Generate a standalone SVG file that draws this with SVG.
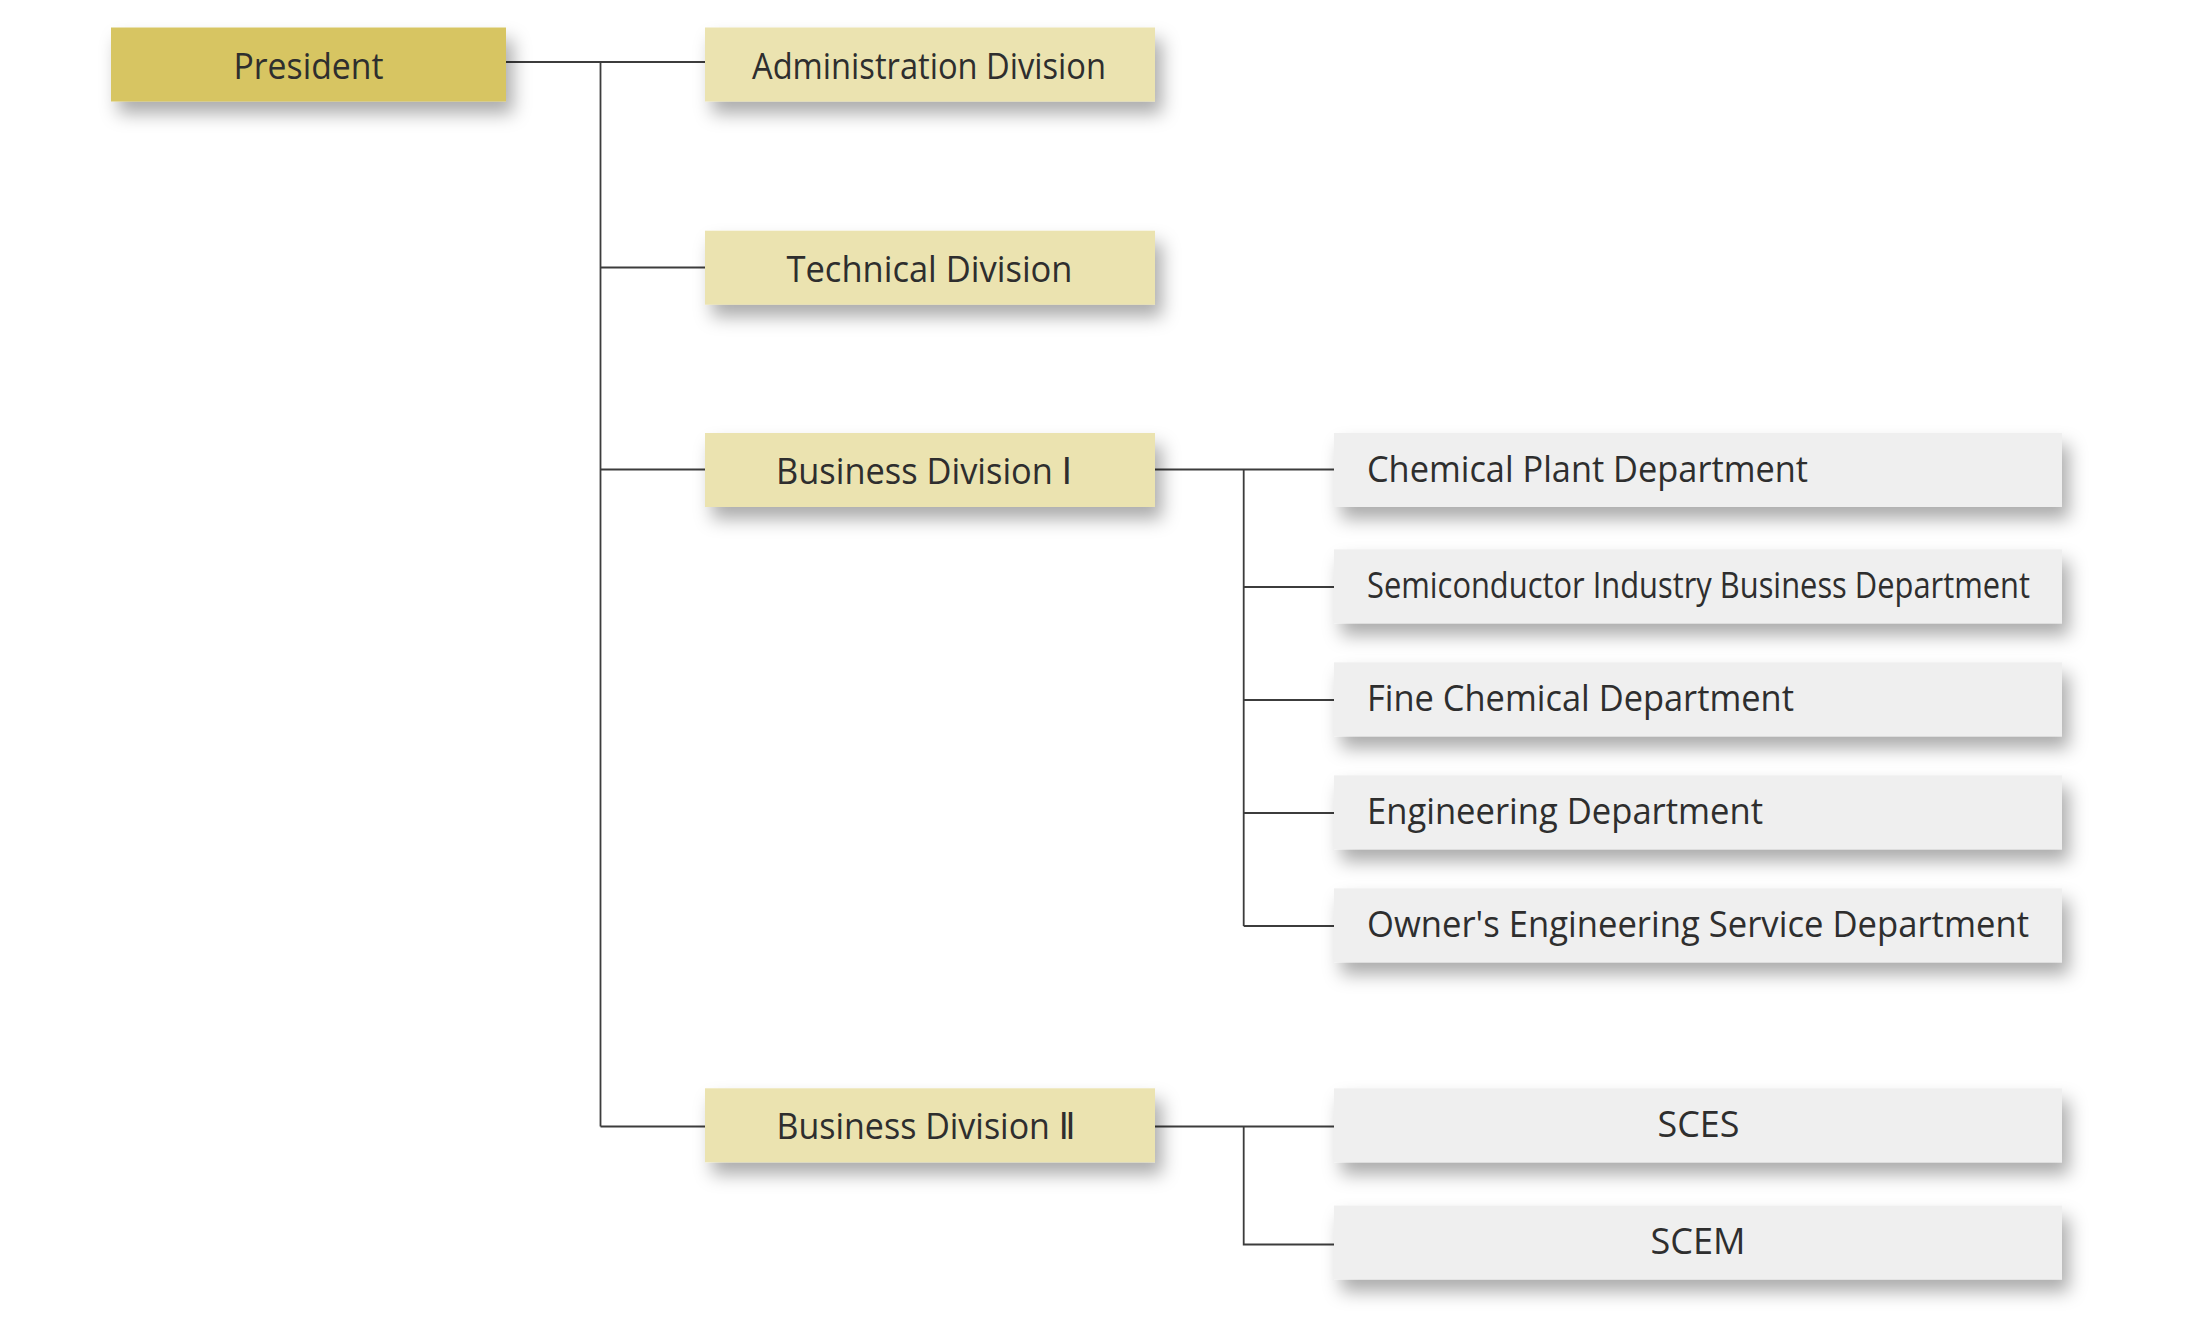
<svg xmlns="http://www.w3.org/2000/svg" width="2205" height="1336" viewBox="0 0 2205 1336">
<defs>
<filter id="sh" x="-10%" y="-50%" width="130%" height="220%">
<feDropShadow dx="7" dy="12" stdDeviation="9" flood-color="#000" flood-opacity="0.33"/>
</filter>
<style>
.pres{fill:#d7c562;filter:url(#sh)}
.div{fill:#ebe3b0;filter:url(#sh)}
.dept{fill:#efefef;filter:url(#sh)}
text{font-family:"Open Sans","Noto Sans","DejaVu Sans","Noto Sans CJK JP",sans-serif;font-size:37px;fill:#2e2e2e}
.ln{stroke:#3c3c3c;stroke-width:1.8;fill:none}
</style>
</defs>
<rect width="2205" height="1336" fill="#fff"/>
<g id="connectors">
<path class="ln" d="M506 62H705M600.5 62V1126.5M600.5 267.5H705M600.5 469.5H705M600.5 1126.5H705"/>
<path class="ln" d="M1155 469.5H1334M1243.7 469.5V926M1243.7 587H1334M1243.7 700H1334M1243.7 813H1334M1243.7 926H1334"/>
<path class="ln" d="M1155 1126.5H1334M1243.7 1126.5V1244.5H1334"/>
</g>
<g id="president"><rect class="pres" x="111" y="27.5" width="395" height="74"/><text x="233.5" y="78.5" textLength="150" lengthAdjust="spacingAndGlyphs">President</text></g>
<g id="administration"><rect class="div" x="705" y="27.5" width="450" height="74"/><text x="752" y="78.5" textLength="354" lengthAdjust="spacingAndGlyphs">Administration Division</text></g>
<g id="technical"><rect class="div" x="705" y="230.7" width="450" height="74"/><text x="786.5" y="281.7" textLength="286" lengthAdjust="spacingAndGlyphs">Technical Division</text></g>
<g id="business1"><rect class="div" x="705" y="433" width="450" height="74"/><text x="776" y="484" textLength="296" lengthAdjust="spacingAndGlyphs">Business Division Ⅰ</text></g>
<g id="business2"><rect class="div" x="705" y="1088.3" width="450" height="74"/><text x="776.5" y="1139.3" textLength="299" lengthAdjust="spacingAndGlyphs">Business Division Ⅱ</text></g>
<g id="chemical-plant"><rect class="dept" x="1334" y="433" width="728" height="74"/><text x="1367" y="481.7" textLength="441" lengthAdjust="spacingAndGlyphs">Chemical Plant Department</text></g>
<g id="semiconductor"><rect class="dept" x="1334" y="549.3" width="728" height="74"/><text x="1367" y="598" textLength="663" lengthAdjust="spacingAndGlyphs">Semiconductor Industry Business Department</text></g>
<g id="fine-chemical"><rect class="dept" x="1334" y="662.3" width="728" height="74"/><text x="1367" y="711" textLength="427" lengthAdjust="spacingAndGlyphs">Fine Chemical Department</text></g>
<g id="engineering"><rect class="dept" x="1334" y="775.3" width="728" height="74"/><text x="1367" y="824" textLength="396" lengthAdjust="spacingAndGlyphs">Engineering Department</text></g>
<g id="owners"><rect class="dept" x="1334" y="888.3" width="728" height="74"/><text x="1367" y="937" textLength="662" lengthAdjust="spacingAndGlyphs">Owner's Engineering Service Department</text></g>
<g id="sces"><rect class="dept" x="1334" y="1088.3" width="728" height="74"/><text x="1657.5" y="1137" textLength="82" lengthAdjust="spacingAndGlyphs">SCES</text></g>
<g id="scem"><rect class="dept" x="1334" y="1205.5" width="728" height="74"/><text x="1650.5" y="1254.2" textLength="95" lengthAdjust="spacingAndGlyphs">SCEM</text></g>
</svg>
